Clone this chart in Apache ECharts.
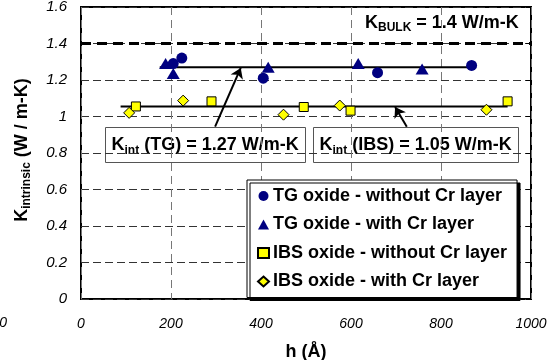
<!DOCTYPE html>
<html>
<head>
<meta charset="utf-8">
<script src="https://cdn.jsdelivr.net/npm/echarts/dist/echarts.min.js"></script>
<style>
  html, body { margin: 0; padding: 0; background: #fff; }
  #chart { width: 551px; height: 360px; }
</style>
</head>
<body>
<div id="chart"></div>
<script>
// 数据 (h in Å, K in W/m-K)
const tgNoCr = [[205, 1.29], [224, 1.32], [405, 1.21], [659, 1.24], [868, 1.28]];
const tgCr = [[188, 1.29], [205, 1.235], [416, 1.27], [616, 1.29], [758, 1.26]];
const ibsNoCr = [[122, 1.055], [290, 1.083], [495, 1.052], [599, 1.032], [948, 1.083]];
const ibsCr = [[107, 1.02], [227, 1.087], [450, 1.01], [575, 1.06], [901, 1.037]];

// 拟合线 / 参考线
const tgFit = [[175, 1.27], [868, 1.27]];
const ibsFit = [[88, 1.055], [948, 1.055]];
const kBulk = 1.4;

// 箭头 (起点, 终点)
const arrowTG = [[298, 0.944], [355, 1.266]];
const arrowIBS = [[724, 0.944], [698, 1.052]];

const seriesNames = [
  'TG oxide - without Cr layer',
  'TG oxide - with Cr layer',
  'IBS oxide - without Cr layer',
  'IBS oxide - with Cr layer'
];

const FONT = '"Liberation Sans", Arial, sans-serif';
const NAVY = '#000080';
const YELLOW = '#ffff00';

const chart = echarts.init(document.getElementById('chart'));

const rich = {
  k: { fontFamily: FONT, fontWeight: 'bold', fontSize: 18, lineHeight: 22, color: '#000' },
  s: { fontFamily: FONT, fontWeight: 'bold', fontSize: 12, lineHeight: 12, verticalAlign: 'bottom', color: '#000' }
};

function labelBox(left, width, text) {
  return {
    type: 'group',
    left: left,
    top: 127,
    children: [
      { type: 'rect', shape: { x: 0, y: 0, width: width, height: 35 },
        style: { fill: '#fff', stroke: '#555', lineWidth: 1 } },
      { type: 'text', x: 6, y: 18,
        style: { text: text, rich: rich, verticalAlign: 'middle', align: 'left' } }
    ]
  };
}

const option = {
  animation: false,
  backgroundColor: '#fff',
  grid: {
    left: 81, right: 20, top: 7, bottom: 61,
    containLabel: false,
    outerBoundsMode: 'none',
    show: true,
    borderColor: '#000',
    borderWidth: 2,
    backgroundColor: 'transparent'
  },
  xAxis: [{
    type: 'value',
    min: 0, max: 1000, interval: 200,
    name: 'h (Å)',
    nameLocation: 'middle',
    nameGap: 44,
    nameTextStyle: { fontFamily: FONT, fontWeight: 'bold', fontSize: 18, color: '#000' },
    axisLine: { show: false },
    axisTick: { show: false },
    axisLabel: { fontFamily: FONT, fontStyle: 'italic', fontSize: 14, color: '#000', margin: 18,
      formatter: v => String(v) },
    splitLine: { show: true, lineStyle: { color: '#777', width: 1, type: [8, 5] } }
  }],
  yAxis: [{
    type: 'value',
    min: 0, max: 1.6, interval: 0.2,
    axisLine: { show: false },
    axisTick: { show: false },
    axisLabel: { fontFamily: FONT, fontStyle: 'italic', fontSize: 15, color: '#000', margin: 14 },
    splitLine: { show: true, lineStyle: { color: '#333', width: 1, type: [8, 4] } }
  }, {
    type: 'value',
    position: 'right',
    min: 0, max: 1.6, interval: 0.2,
    axisLine: { show: false },
    axisTick: { show: true, inside: true, length: 5, lineStyle: { color: '#000' } },
    axisLabel: { show: false },
    splitLine: { show: false }
  }],
  legend: {
    data: seriesNames,
    orient: 'vertical',
    left: 247,
    top: 180,
    padding: [7, 10, 7, 10],
    itemGap: 10.5,
    itemWidth: 11,
    itemHeight: 10,
    backgroundColor: '#fff',
    borderColor: '#000',
    borderWidth: 1,
    shadowColor: '#000',
    shadowBlur: 0,
    shadowOffsetX: 3,
    shadowOffsetY: 3,
    textStyle: { fontFamily: FONT, fontWeight: 'bold', fontSize: 18, color: '#000', padding: [0, 0, 0, -1] }
  },
  graphic: [
    labelBox(105, 200, '{k|K}{s|int}{k| (TG) = 1.27 W/m-K}'),
    labelBox(313, 205, '{k|K}{s|int}{k| (IBS) = 1.05 W/m-K}'),
    { type: 'text', left: 365, top: 14,
      style: { text: '{k|K}{s|BULK}{k| = 1.4 W/m-K}', rich: rich } },
    { type: 'text', x: 22, y: 150, rotation: Math.PI / 2,
      style: { text: '{k|K}{s|intrinsic}{k| (W / m-K)}', rich: rich, align: 'center', verticalAlign: 'middle' } },
    { type: 'text', x: 7, y: 323,
      style: { text: '0', fontFamily: FONT, fontStyle: 'italic', fontSize: 14, fill: '#000', align: 'right', verticalAlign: 'middle' } }
  ],
  series: [
    {
      name: 'tgFit', type: 'line', data: tgFit, symbol: 'none', silent: true, z: 1,
      lineStyle: { color: '#000', width: 2 },
      markLine: {
        silent: true, symbol: ['none', 'arrow'], symbolSize: 10,
        label: { show: false },
        lineStyle: { color: '#000', width: 2, type: 'solid' },
        data: [
          [{ coord: arrowTG[0] }, { coord: arrowTG[1] }],
          [{ coord: arrowIBS[0] }, { coord: arrowIBS[1] }]
        ]
      }
    },
    {
      name: 'ibsFit', type: 'line', data: ibsFit, symbol: 'none', silent: true, z: 1,
      lineStyle: { color: '#000', width: 2 },
      markLine: {
        silent: true, symbol: ['none', 'none'],
        label: { show: false },
        lineStyle: { color: '#000', width: 3, type: [10, 6] },
        data: [{ yAxis: kBulk }]
      }
    },
    {
      name: seriesNames[0], type: 'scatter', data: tgNoCr, z: 3,
      symbol: 'circle', symbolSize: 11,
      itemStyle: { color: NAVY, opacity: 1 }
    },
    {
      name: seriesNames[1], type: 'scatter', data: tgCr, z: 3,
      symbol: 'triangle', symbolSize: [13, 11],
      itemStyle: { color: NAVY, opacity: 1 }
    },
    {
      name: seriesNames[2], type: 'scatter', data: ibsNoCr, z: 3,
      symbol: 'rect', symbolSize: 9,
      itemStyle: { color: YELLOW, borderColor: '#000', borderWidth: 1, opacity: 1 }
    },
    {
      name: seriesNames[3], type: 'scatter', data: ibsCr, z: 3,
      symbol: 'diamond', symbolSize: 11,
      itemStyle: { color: YELLOW, borderColor: '#000', borderWidth: 1, opacity: 1 }
    }
  ]
};

chart.setOption(option);
</script>
</body>
</html>
